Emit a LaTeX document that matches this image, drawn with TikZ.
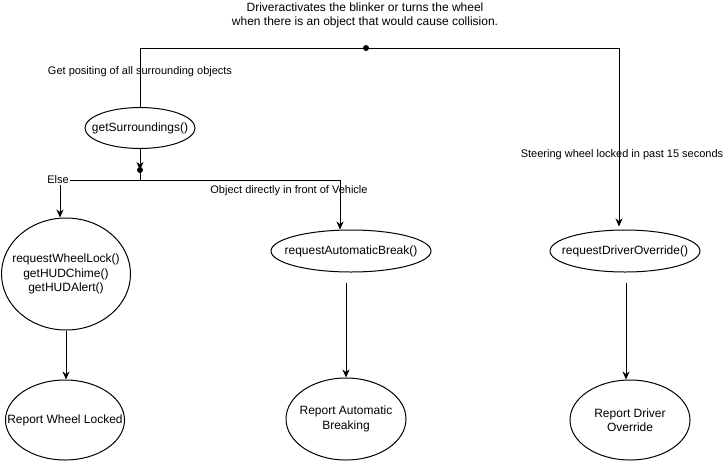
\documentclass[tikz,border=0pt]{standalone}
\usepackage{fontspec}
\setmainfont{Liberation Sans}
\usetikzlibrary{shapes.geometric,arrows.meta}
\tikzset{
  ell/.style={draw, ellipse, inner sep=0pt, line width=1pt},
  txt/.style={inner sep=0pt, align=center, font=\fontsize{12}{14.5}\selectfont},
  lbl/.style={inner sep=1pt, font=\fontsize{11}{13}\selectfont},
  arr/.style={-{Stealth[length=8pt,width=7pt,inset=2.5pt]}, line width=1pt},
  ln/.style={line width=1pt},
  dotn/.style={circle, fill=black, inner sep=0pt, minimum size=6pt},
}
\begin{document}
\begin{tikzpicture}[x=1pt,y=-1pt]
\useasboundingbox (0,0) rectangle (725,461);
% title
\node[align=center, font=\fontsize{12}{14}\selectfont] (title) at (365,15) {Driveractivates the blinker or turns the wheel\\when there is an object that would cause collision.};
% nodes
\node[dotn] (d1) at (366,48) {};
\node[ell, minimum width=110pt, minimum height=41pt] (gs) at (140,128) {};
\node[txt] (gst) at (gs) {getSurroundings()};
\node[dotn] (d2) at (140,170) {};
\coordinate (split) at (140,180);
\node[ell, minimum width=129pt, minimum height=112pt] (rwl) at (66,274) {};
\node[txt] (rwlt) at (rwl) {requestWheelLock()\\getHUDChime()\\getHUDAlert()};
\node[ell, minimum width=160pt, minimum height=42pt] (rab) at (351,251) {};
\node[txt] (rabt) at (rab) {requestAutomaticBreak()};
\node[ell, minimum width=150pt, minimum height=42pt] (rdo) at (625,251) {};
\node[txt] (rdot) at (rdo) {requestDriverOverride()};
\node[ell, minimum width=119pt, minimum height=80pt] (pwl) at (65,420) {};
\node[txt] (pwlt) at (pwl) {Report Wheel Locked};
\node[ell, minimum width=120pt, minimum height=82pt] (pab) at (346,419) {};
\node[txt] (pabt) at (pab) {Report Automatic\\Breaking};
\node[ell, minimum width=120pt, minimum height=80pt] (pdo) at (630,420) {};
\node[txt] (pdot) at (pdo) {Report Driver\\Override};
\coordinate (pdoin) at ([xshift=-4pt]pdo.north);
% connectors
\draw[ln] (d1.center) -| (gs.north);
\draw[arr, shorten >=3pt] (d1.center) -| ([xshift=-6pt]rdo.north);
\draw[arr] (gs.south) -- (d2.center);
\draw[ln] (d2.center) -- (split);
\draw[arr] (split) -| ([xshift=-6pt]rwl.north);
\draw[arr] (split) -| ([xshift=-11pt]rab.north);
\draw[arr] (rwl.south) -- (pwl.north -| rwl.south);
\draw[arr, shorten <=10pt] (rab.south -| pab.north) -- (pab.north);
\draw[arr, shorten <=10pt] (rdo.south -| pdoin) -- (pdoin);
% labels
\node[lbl] (l1) at (140,72) {Get positing of all surrounding objects};
\node[lbl] (l2) at (622,155) {Steering wheel locked in past 15 seconds};
\node[lbl, fill=white] (l3) at (58,180) {Else};
\node[lbl] (l4) at (289,191) {Object directly in front of Vehicle};
\end{tikzpicture}
\end{document}
